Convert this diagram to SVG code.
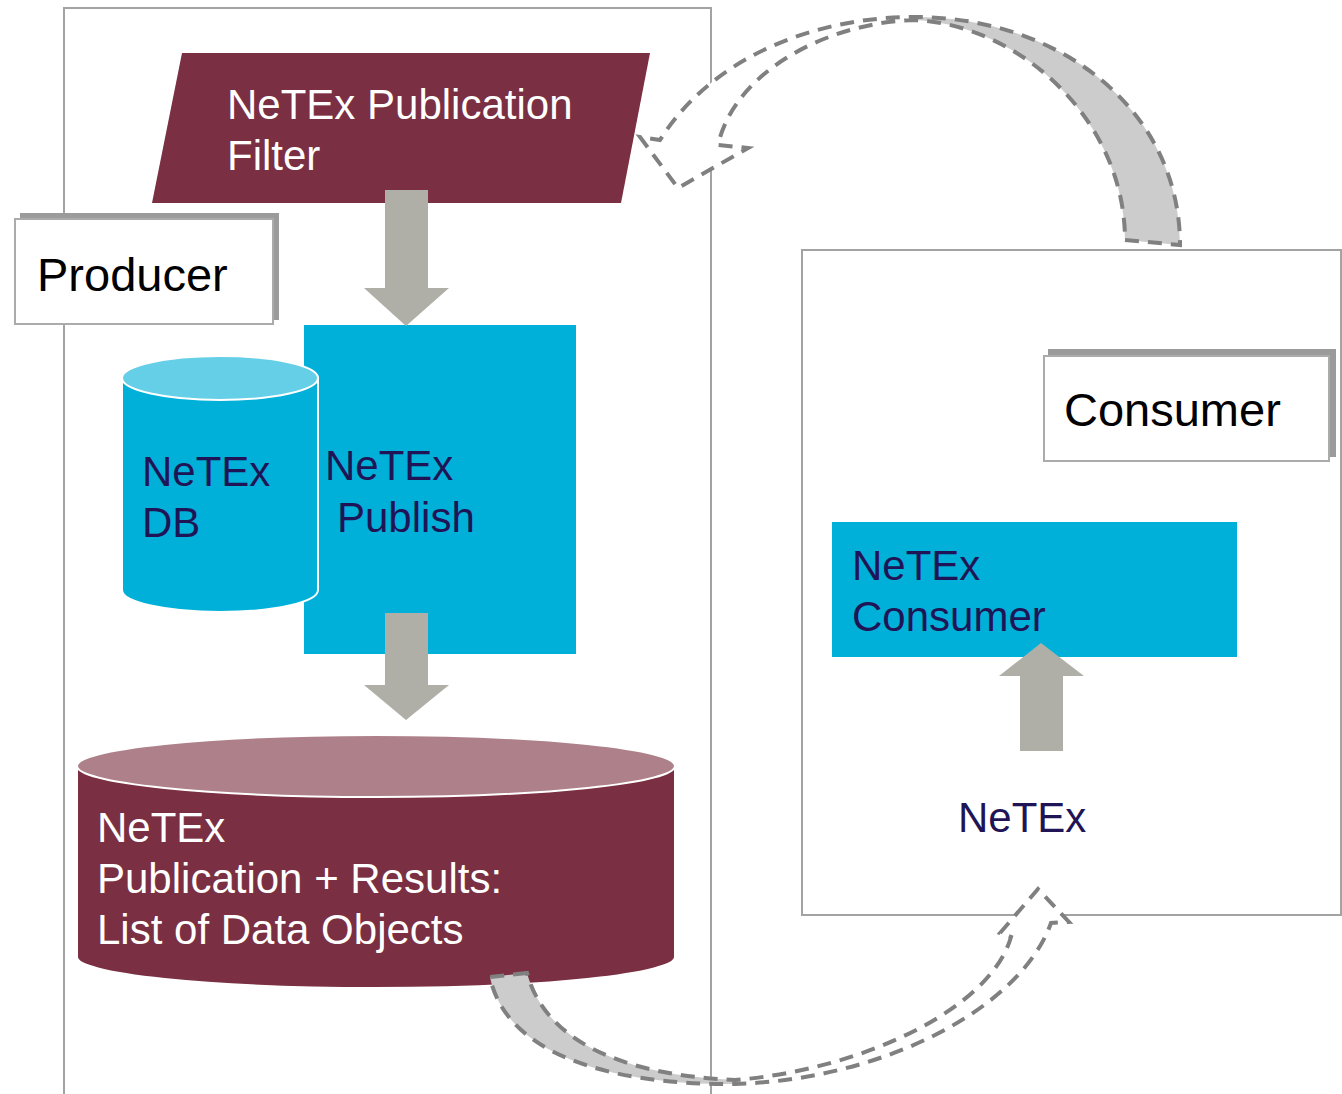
<svg xmlns="http://www.w3.org/2000/svg" width="1342" height="1094" viewBox="0 0 1342 1094">
  <style>
    .frame { fill: none; stroke: #A3A3A3; stroke-width: 2; }
    .lbl-shadow { fill: #9B9B9B; }
    .lbl-box { fill: #FFFFFF; stroke: #ABABAB; stroke-width: 2; }
    .maroon { fill: #7A2F42; }
    .maroon-top { fill: #AE818A; stroke: #FFFFFF; stroke-width: 2; }
    .cyan { fill: #00B0D8; }
    .cyan-top { fill: #66CFE8; stroke: #FFFFFF; stroke-width: 2; }
    .cyl-body { stroke: #FFFFFF; stroke-width: 2; }
    .block { fill: #AFAFA7; }
    .band-back { fill: #CCCCCC; }
    .band-front { fill: #FFFFFF; }
    .band-edge { fill: none; stroke: #808080; stroke-width: 4; stroke-dasharray: 14 9; stroke-linejoin: miter; }
    text { font-family: "Liberation Sans", Arial, sans-serif; font-size: 42px; }
    .light { fill: #FFFFFF; }
    .navy { fill: #1F1556; }
    .title { fill: #000000; font-size: 47px; }
  </style>

  <!-- system boundaries -->
  <g id="producer-frame">
    <path class="frame" d="M64,1094 V8 H711 V1094"/>
  </g>
  <g id="consumer-frame">
    <rect class="frame" x="802" y="250" width="539" height="665"/>
  </g>

  <!-- producer side -->
  <g id="publication-filter">
    <polygon class="maroon" points="182,53 650,53 621,203 152,203"/>
    <text class="light" x="227" y="119">NeTEx Publication</text>
    <text class="light" x="227" y="170">Filter</text>
  </g>

  <g id="producer-label">
    <rect class="lbl-shadow" x="20" y="213" width="259" height="107"/>
    <rect class="lbl-box" x="15" y="219" width="258" height="105"/>
    <text class="title" x="37" y="291">Producer</text>
  </g>

  <g id="netex-publish">
    <rect class="cyan" x="304" y="325" width="272" height="329"/>
    <text class="navy" x="325" y="480">NeTEx</text>
    <text class="navy" x="337" y="532">Publish</text>
  </g>

  <g id="netex-db">
    <path class="cyan cyl-body" d="M122,378 V590 A98,22 0 0 0 318,590 V378 Z"/>
    <ellipse class="cyan-top" cx="220" cy="378" rx="98" ry="22"/>
    <text class="navy" x="142" y="486">NeTEx</text>
    <text class="navy" x="142" y="537">DB</text>
  </g>

  <g id="publication-results">
    <path class="maroon cyl-body" d="M77,766 V957 A299,31 0 0 0 675,957 V766 Z"/>
    <ellipse class="maroon-top" cx="376" cy="766" rx="299" ry="31"/>
    <text class="light" x="97" y="842">NeTEx</text>
    <text class="light" x="97" y="893">Publication + Results:</text>
    <text class="light" x="97" y="944">List of Data Objects</text>
  </g>

  <!-- consumer side -->
  <g id="consumer-label">
    <rect class="lbl-shadow" x="1048" y="349" width="288" height="108"/>
    <rect class="lbl-box" x="1044" y="356" width="285" height="105"/>
    <text class="title" x="1064" y="426">Consumer</text>
  </g>

  <g id="netex-consumer">
    <rect class="cyan" x="832" y="522" width="405" height="135"/>
    <text class="navy" x="852" y="580">NeTEx</text>
    <text class="navy" x="852" y="631">Consumer</text>
  </g>

  <g id="netex-input">
    <text class="navy" x="958" y="832">NeTEx</text>
  </g>

  <!-- flows -->
  <g id="connectors">
    <path id="filter-to-publish" class="block" d="M385,190 H428 V288 H449 L406,326 L364,288 H385 Z"/>
    <path id="publish-to-results" class="block" d="M385,613 H428 V685 H449 L406,720 L364,685 H385 Z"/>
    <path id="input-to-consumer" class="block" d="M1020,751 V676 H999 L1041,643 L1084,676 H1063 V751 Z"/>

    <!-- consumer request back to the filter -->
    <g id="consumer-to-filter">
      <path class="band-back" d="M915,17 C1060,17 1180,110 1180,245 L1125,240 C1125,120 1020,25 915,20 Z"/>
      <path class="band-front" d="M915,17 C810,17 710,60 660,140 L640,137 L678,188 L748,148 L718,145 C735,70 830,22 915,20 Z"/>
      <path class="band-edge" d="M1125,240 L1180,245 C1180,110 1060,17 915,17 C810,17 710,60 660,140 L640,137 L678,188 L748,148 L718,145 C735,70 830,22 915,20 C1020,25 1125,120 1125,240 Z"/>
    </g>

    <!-- results delivered to the consumer -->
    <g id="results-to-consumer">
      <path class="band-back" d="M490,977 C505,1050 600,1085 735,1084 L735,1080 C620,1075 545,1040 527,973 Z"/>
      <path class="band-front" d="M735,1084 C880,1080 1020,1010 1051,923 L1069,922 L1038,889 L1000,933 L1011,937 C990,1010 860,1070 735,1080 Z"/>
      <path class="band-edge" d="M527,973 L490,977 C505,1050 600,1085 735,1084 C880,1080 1020,1010 1051,923 L1069,922 L1038,889 L1000,933 L1011,937 C990,1010 860,1070 735,1080 C620,1075 545,1040 527,973 Z"/>
    </g>
  </g>
</svg>
